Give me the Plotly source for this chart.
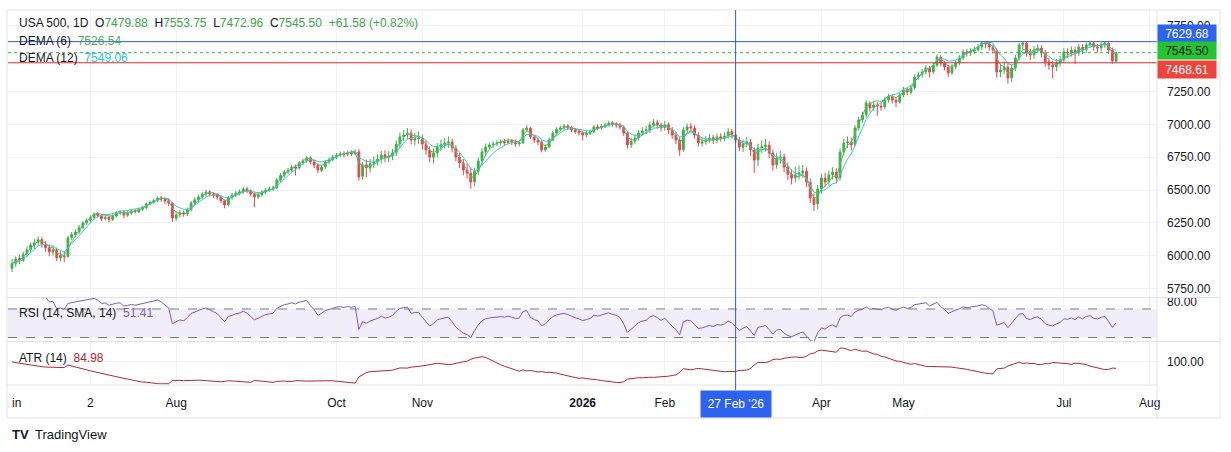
import numpy as np
import pandas as pd
import plotly.graph_objects as go
from plotly.subplots import make_subplots

# ---------------- data ----------------
opens = [5905,5942,5978,5965,6012,6048,6080,6100,6122,6088,6060,6028,6046,5982,6000,5995,6138,6158,6182,6214,
6250,6270,6292,6318,6303,6282,6294,6276,6302,6326,6332,6308,6324,6342,6334,6354,6365,6394,6406,6422,
6440,6428,6418,6398,6285,6312,6326,6320,6350,6402,6426,6448,6470,6486,6468,6462,6446,6418,6388,6442,
6463,6476,6487,6509,6494,6468,6448,6464,6486,6502,6509,6517,6578,6612,6638,6652,6676,6670,6708,6722,
6745,6713,6688,6650,6677,6714,6732,6752,6766,6776,6772,6784,6780,6790,6605,6692,6668,6702,6715,6737,
6768,6748,6760,6784,6852,6906,6920,6932,6880,6892,6894,6848,6803,6750,6782,6828,6846,6860,6865,6818,
6750,6704,6650,6628,6565,6642,6722,6792,6828,6844,6852,6860,6868,6862,6875,6866,6852,6860,6958,6970,
6902,6878,6864,6806,6828,6882,6935,6962,6974,6988,6976,6958,6946,6935,6920,6931,6944,6981,6974,6986,
6996,7012,7001,6996,6978,6932,6845,6872,6898,6935,6952,6958,6996,7012,6994,6974,6996,6955,6918,6880,
6808,6958,6982,6970,6917,6856,6868,6882,6898,6880,6905,6895,6912,6944,6918,6880,6825,6852,6864,6803,
6730,6822,6832,6840,6780,6692,6746,6750,6672,6618,6593,6616,6632,6643,6558,6438,6395,6510,6590,6563,
6616,6635,6595,6792,6860,6864,6846,6974,7035,7073,7160,7126,7148,7138,7134,7187,7206,7183,7172,7225,
7263,7244,7280,7362,7378,7400,7428,7400,7452,7510,7465,7435,7393,7439,7469,7507,7552,7545,7557,7568,
7591,7620,7610,7587,7560,7400,7415,7435,7355,7431,7507,7606,7617,7541,7530,7568,7580,7541,7473,7450,
7439,7469,7492,7549,7545,7564,7545,7587,7568,7606,7617,7587,7583,7606,7617,7564,7479.88]

highs = [5975,5995,6010,6030,6070,6100,6125,6145,6140,6110,6085,6075,6062,6035,6030,6150,6180,6200,6232,6262,
6285,6308,6330,6332,6315,6310,6305,6315,6338,6345,6340,6338,6352,6355,6365,6378,6405,6420,6435,6450,
6456,6444,6434,6409,6334,6349,6344,6366,6416,6444,6464,6484,6502,6499,6484,6476,6459,6429,6454,6479,
6494,6504,6524,6522,6506,6482,6482,6499,6516,6526,6534,6592,6629,6654,6669,6692,6694,6722,6739,6759,
6756,6729,6702,6694,6729,6749,6769,6782,6794,6796,6802,6804,6809,6812,6712,6732,6737,6757,6772,6797,
6802,6797,6812,6877,6937,6957,6972,6962,6937,6947,6922,6877,6832,6817,6857,6882,6897,6907,6892,6842,
6782,6737,6702,6672,6667,6747,6817,6854,6863,6871,6878,6885,6888,6893,6891,6883,6878,6973,6993,6981,
6918,6898,6878,6848,6898,6948,6978,6991,7003,7001,6988,6973,6963,6951,6948,6961,6995,6998,7003,7015,
7028,7025,7018,7011,6993,6950,6900,6922,6958,6978,6988,7020,7040,7035,7015,7025,7015,6980,6940,6905,
6980,7005,7008,6992,6940,6900,6912,6925,6920,6930,6932,6940,6970,6965,6940,6905,6885,6905,6890,6825,
6853,6878,6888,6870,6808,6783,6798,6778,6708,6658,6678,6686,6690,6673,6588,6473,6538,6623,6630,6648,
6673,6666,6818,6890,6908,6898,6994,7057,7097,7184,7179,7174,7169,7164,7207,7231,7224,7204,7244,7284,
7281,7299,7381,7401,7421,7449,7444,7471,7534,7527,7484,7454,7459,7489,7527,7571,7574,7579,7591,7611,
7628,7629,7626,7607,7580,7460,7480,7460,7455,7530,7622,7629.68,7626,7575,7595,7608,7602,7565,7505,7485,
7500,7520,7578,7578,7593,7588,7612,7610,7622,7628,7627,7612,7624,7627,7625,7585,7553.75]

lows = [5875,5915,5935,5950,5990,6020,6050,6075,6060,6030,5995,6000,5960,5955,5950,5985,6120,6140,6165,6200,
6232,6255,6275,6290,6262,6268,6255,6265,6290,6310,6285,6295,6312,6320,6325,6340,6352,6382,6392,6408,
6408,6394,6376,6258,6266,6291,6296,6301,6336,6386,6406,6431,6451,6451,6438,6426,6401,6361,6376,6426,
6446,6458,6471,6476,6451,6368,6431,6446,6468,6486,6491,6506,6561,6594,6621,6636,6611,6656,6691,6706,
6696,6666,6628,6636,6661,6696,6716,6736,6751,6748,6756,6758,6764,6572,6577,6597,6632,6667,6687,6702,
6712,6712,6727,6757,6822,6872,6887,6847,6842,6852,6807,6767,6712,6702,6747,6797,6817,6822,6787,6717,
6667,6612,6587,6510,6527,6612,6692,6762,6812,6822,6832,6839,6837,6847,6842,6829,6832,6852,6942,6887,
6857,6842,6787,6792,6817,6872,6922,6947,6959,6957,6942,6927,6917,6877,6902,6917,6932,6955,6959,6972,
6982,6982,6975,6959,6912,6815,6820,6848,6875,6915,6925,6935,6975,6965,6945,6952,6925,6890,6850,6760,
6790,6935,6940,6890,6830,6830,6845,6860,6850,6855,6868,6870,6890,6890,6852,6795,6790,6825,6760,6630,
6682,6782,6792,6742,6647,6662,6702,6637,6577,6542,6557,6582,6592,6522,6402,6340,6352,6472,6522,6532,
6580,6552,6572,6762,6820,6802,6831,6951,7011,7051,7096,7101,7066,7103,7116,7166,7159,7131,7156,7206,
7221,7226,7263,7339,7356,7379,7356,7383,7436,7441,7411,7361,7376,7419,7451,7491,7516,7521,7536,7551,
7565,7580,7562,7539,7355,7360,7385,7310,7320,7405,7485,7570,7515,7490,7500,7540,7510,7440,7415,7350,
7405,7440,7470,7505,7515,7460,7520,7535,7540,7580,7560,7545,7555,7580,7535,7462,7472.96]

closes = [5940,5975,5968,6010,6045,6081,6098,6121,6090,6062,6030,6044,5985,6002,5992,6135,6160,6180,6215,6249,
6268,6290,6317,6305,6280,6292,6275,6300,6325,6330,6310,6322,6340,6335,6352,6363,6393,6405,6420,6439,
6430,6416,6400,6287,6310,6325,6318,6348,6401,6425,6447,6468,6485,6470,6460,6447,6420,6386,6440,6462,
6475,6485,6508,6495,6470,6447,6462,6485,6500,6508,6515,6576,6610,6637,6650,6675,6668,6706,6720,6744,
6715,6690,6652,6675,6713,6730,6751,6765,6774,6770,6782,6778,6789,6599,6690,6670,6700,6713,6735,6767,
6750,6759,6782,6850,6905,6919,6934,6881,6890,6896,6850,6805,6751,6780,6827,6845,6858,6866,6820,6751,
6706,6652,6629,6561,6640,6720,6790,6827,6843,6850,6858,6866,6860,6873,6865,6850,6858,6957,6972,6904,
6880,6866,6805,6827,6881,6934,6960,6972,6987,6975,6957,6945,6934,6919,6930,6942,6980,6972,6985,6995,
7010,7000,6995,6980,6934,6843,6870,6896,6934,6950,6957,6995,7010,6995,6972,6995,6957,6919,6881,6805,
6957,6980,6972,6919,6858,6866,6880,6896,6881,6904,6896,6910,6942,6919,6881,6827,6850,6866,6805,6728,
6820,6830,6843,6782,6690,6744,6751,6675,6620,6591,6614,6630,6645,6561,6440,6390,6508,6591,6561,6614,
6637,6591,6789,6858,6866,6843,6972,7033,7071,7162,7124,7147,7140,7132,7185,7208,7185,7170,7223,7261,
7246,7277,7360,7376,7398,7429,7398,7450,7513,7467,7437,7391,7437,7467,7505,7551,7543,7555,7566,7589,
7619,7612,7589,7566,7398,7413,7437,7353,7429,7505,7604,7619,7543,7528,7566,7581,7543,7475,7452,7437,
7467,7490,7551,7543,7566,7543,7589,7566,7604,7619,7589,7581,7604,7619,7566,7483.92,7545.50]

start_date = "2025-06-02"
x_tick_dates = ["2025-07-01", "2025-08-01", "2025-10-01", "2025-11-03", "2026-01-01",
                "2026-02-02", "2026-04-01", "2026-05-01", "2026-07-01", "2026-08-03"]
x_tick_text = ["2", "Aug", "Oct", "Nov", "<b>2026</b>", "Feb", "Apr", "May", "Jul", "Aug"]
cursor_date = "2026-02-27"
cursor_label = "27 Feb '26"

price_ticks = [5750, 6000, 6250, 6500, 6750, 7000, 7250, 7750]
high_level = 7629.68
last_price = 7545.50
low_level = 7468.61

legend_vals = {"O": "7479.88", "H": "7553.75", "L": "7472.96", "C": "7545.50", "chg": "+61.58 (+0.82%)"}
dema6_txt, dema12_txt, rsi_txt, atr_txt = "7526.54", "7549.06", "51.41", "84.98"

# ---------------- indicators ----------------
N = len(closes)
o = pd.Series(opens, dtype=float); h = pd.Series(highs, dtype=float)
l = pd.Series(lows, dtype=float); c = pd.Series(closes, dtype=float)
xs = np.arange(N)
all_dates = pd.bdate_range(start_date, periods=N + 20)
date_idx = {d.strftime("%Y-%m-%d"): i for i, d in enumerate(all_dates)}
tickvals = [date_idx[d] for d in x_tick_dates]
cursor_x = date_idx[cursor_date]


def dema(s, n):
    e1 = s.ewm(span=n, adjust=False).mean()
    e2 = e1.ewm(span=n, adjust=False).mean()
    return 2 * e1 - e2


dema6 = dema(c, 6)
dema12 = dema(c, 12)
delta = c.diff()
gain = delta.clip(lower=0).ewm(alpha=1 / 14, adjust=False).mean()
loss = (-delta.clip(upper=0)).ewm(alpha=1 / 14, adjust=False).mean()
rsi = 100 - 100 / (1 + gain / loss)
prev_c = c.shift(1)
tr = pd.concat([h - l, (h - prev_c).abs(), (l - prev_c).abs()], axis=1).max(axis=1)
atr = tr.ewm(alpha=1 / 14, adjust=False).mean()

# ---------------- figure ----------------
W, H = 1231, 452
L_PX, R_PX, T_PX, B_PX = 8, 1157, 10, 385
PW, PH = R_PX - L_PX, B_PX - T_PX


def xp(px):
    return (px - L_PX) / PW


def yp(py):
    return (B_PX - py) / PH


UP, DN = "#3FAF4B", "#EF4350"
TXT = "#131722"
GRID = "#F0F1F4"
FONT = "Liberation Sans"

fig = make_subplots(rows=3, cols=1, shared_xaxes=True, vertical_spacing=0.0)

fig.add_trace(go.Candlestick(x=xs, open=o, high=h, low=l, close=c,
                             increasing=dict(line=dict(color=UP, width=1), fillcolor=UP),
                             decreasing=dict(line=dict(color=DN, width=1), fillcolor=DN),
                             whiskerwidth=0, showlegend=False, hoverinfo="skip"), row=1, col=1)
fig.add_trace(go.Scatter(x=xs, y=dema12, mode="lines", line=dict(color="#3EC5D6", width=1),
                         showlegend=False, hoverinfo="skip"), row=1, col=1)
fig.add_trace(go.Scatter(x=xs, y=dema6, mode="lines", line=dict(color="#5DBB63", width=1),
                         showlegend=False, hoverinfo="skip"), row=1, col=1)
fig.add_trace(go.Scatter(x=xs, y=rsi, mode="lines", line=dict(color="#7E57C2", width=1),
                         showlegend=False, hoverinfo="skip"), row=2, col=1)
fig.add_trace(go.Scatter(x=xs, y=atr, mode="lines", line=dict(color="#B22833", width=1),
                         showlegend=False, hoverinfo="skip"), row=3, col=1)

xr = [-(12 - L_PX) / 3.73, (R_PX - 12) / 3.73]
for i, ax in enumerate(["xaxis", "xaxis2", "xaxis3"]):
    fig.layout[ax].update(range=xr, tickvals=tickvals, ticktext=x_tick_text, showgrid=True,
                          gridcolor=GRID, zeroline=False, showline=False, rangeslider_visible=False,
                          showticklabels=(i == 2), ticks="", ticklabelstandoff=9,
                          tickfont=dict(family=FONT, size=12, color=TXT))

fig.update_layout(
    yaxis=dict(domain=[yp(297), 1], range=[5685.3, 7870.5], side="right", tickvals=price_ticks,
               tickformat=".2f", gridcolor=GRID, zeroline=False, ticks="", ticklabelstandoff=9,
               tickfont=dict(family=FONT, size=12, color=TXT)),
    yaxis2=dict(domain=[yp(341), yp(298)], range=[25.1, 85.4], side="right", tickvals=[80],
                tickformat=".2f", showgrid=False, zeroline=False, ticks="", ticklabelstandoff=9,
                tickfont=dict(family=FONT, size=12, color=TXT)),
    yaxis3=dict(domain=[0, yp(342)], range=[50.5, 143], side="right", tickvals=[100],
                tickformat=".2f", gridcolor=GRID, zeroline=False, ticks="", ticklabelstandoff=9,
                tickfont=dict(family=FONT, size=12, color=TXT)),
)

shapes = []
# RSI band and dashed bounds
shapes.append(dict(type="rect", xref="x2 domain", yref="y2", x0=0, x1=1, y0=30, y1=70,
                   fillcolor="rgba(126,87,194,0.10)", line=dict(width=0), layer="below"))
for lv in (70, 30):
    shapes.append(dict(type="line", xref="x2 domain", yref="y2", x0=0, x1=1, y0=lv, y1=lv,
                       line=dict(color="#787B86", width=1, dash="dash")))
# price level lines
shapes.append(dict(type="line", xref="x domain", yref="y", x0=0, x1=1, y0=high_level, y1=high_level,
                   line=dict(color="#2E5BDB", width=1)))
shapes.append(dict(type="line", xref="x domain", yref="y", x0=0, x1=1, y0=low_level, y1=low_level,
                   line=dict(color="#D7322F", width=1)))
shapes.append(dict(type="line", xref="x domain", yref="y", x0=0, x1=1, y0=last_price, y1=last_price,
                   line=dict(color="#3FAF4B", width=1, dash="dot")))
# panel separators and frame
for py in (297.5, 341.5):
    shapes.append(dict(type="line", xref="paper", yref="paper", x0=xp(7), x1=xp(1220), y0=yp(py), y1=yp(py),
                       line=dict(color="#E0E3EB", width=1)))
shapes.append(dict(type="rect", xref="paper", yref="paper", x0=xp(7), x1=xp(1220), y0=yp(418), y1=yp(10),
                   line=dict(color="#E0E3EB", width=1)))
shapes.append(dict(type="line", xref="paper", yref="paper", x0=xp(1157), x1=xp(1157), y0=yp(418), y1=yp(10),
                   line=dict(color="#E0E3EB", width=1)))
shapes.append(dict(type="line", xref="paper", yref="paper", x0=xp(7), x1=xp(1157), y0=yp(385), y1=yp(385),
                   line=dict(color="#E0E3EB", width=1)))
# crosshair
shapes.append(dict(type="line", xref="x", yref="paper", x0=cursor_x, x1=cursor_x, y0=yp(390), y1=1,
                   line=dict(color="#2E5BDB", width=1)))
fig.update_layout(shapes=shapes)

ann = []


def label(px, py, text, size=13, color=TXT, xanchor="left", **kw):
    ann.append(dict(xref="paper", yref="paper", x=xp(px), y=yp(py), text=text, showarrow=False,
                    xanchor=xanchor, yanchor="middle", font=dict(family=FONT, size=size, color=color), **kw))


G = "#3FA34D"
label(17, 23, f"USA 500, 1D  O<span style='color:{G}'>{legend_vals['O']}</span>  "
              f"H<span style='color:{G}'>{legend_vals['H']}</span>  "
              f"L<span style='color:{G}'>{legend_vals['L']}</span>  "
              f"C<span style='color:{G}'>{legend_vals['C']}</span>  "
              f"<span style='color:{G}'>{legend_vals['chg']}</span>", size=12)
label(17, 41, f"DEMA (6)  <span style='color:#4CAF50'>{dema6_txt}</span>", size=12)
label(17, 58, f"DEMA (12)  <span style='color:#26C6DA'>{dema12_txt}</span>", size=12)
label(17, 313, f"RSI (14, SMA, 14)  <span style='color:#7E57C2'>{rsi_txt}</span>", size=12)
label(17, 358, f"ATR (14)  <span style='color:#B22833'>{atr_txt}</span>", size=12)

# right price boxes
for py, txt, bg, fc in ((34, f"{high_level:.2f}", "#2E62F0", "white"),
                        (51, f"{last_price:.2f}", "#22C42F", TXT),
                        (69, f"{low_level:.2f}", "#F0443A", "white")):
    ann.append(dict(xref="paper", yref="paper", x=xp(1157), y=yp(py), text=txt, showarrow=False,
                    xanchor="left", yanchor="middle", width=56, height=15, align="center",
                    bgcolor=bg, borderpad=1, font=dict(family=FONT, size=12, color=fc)))
# crosshair date box
ann.append(dict(xref="x", yref="paper", x=cursor_x, y=yp(404), text=cursor_label, showarrow=False,
                xanchor="center", yanchor="middle", width=70, height=26, align="center",
                bgcolor="#2E62F0", borderpad=0, font=dict(family=FONT, size=12, color="white")))
# clipped left month label
label(10, 403, "in", size=12)
# logo
label(10, 434, "<b>TV</b>", size=13)
label(33, 434, "TradingView", size=13)
fig.update_layout(annotations=ann)

fig.update_layout(width=W, height=H, margin=dict(l=L_PX, r=W - R_PX, t=T_PX, b=H - B_PX),
                  paper_bgcolor="white", plot_bgcolor="white", showlegend=False,
                  font=dict(family=FONT, color=TXT))
fig.write_html("out.html")
